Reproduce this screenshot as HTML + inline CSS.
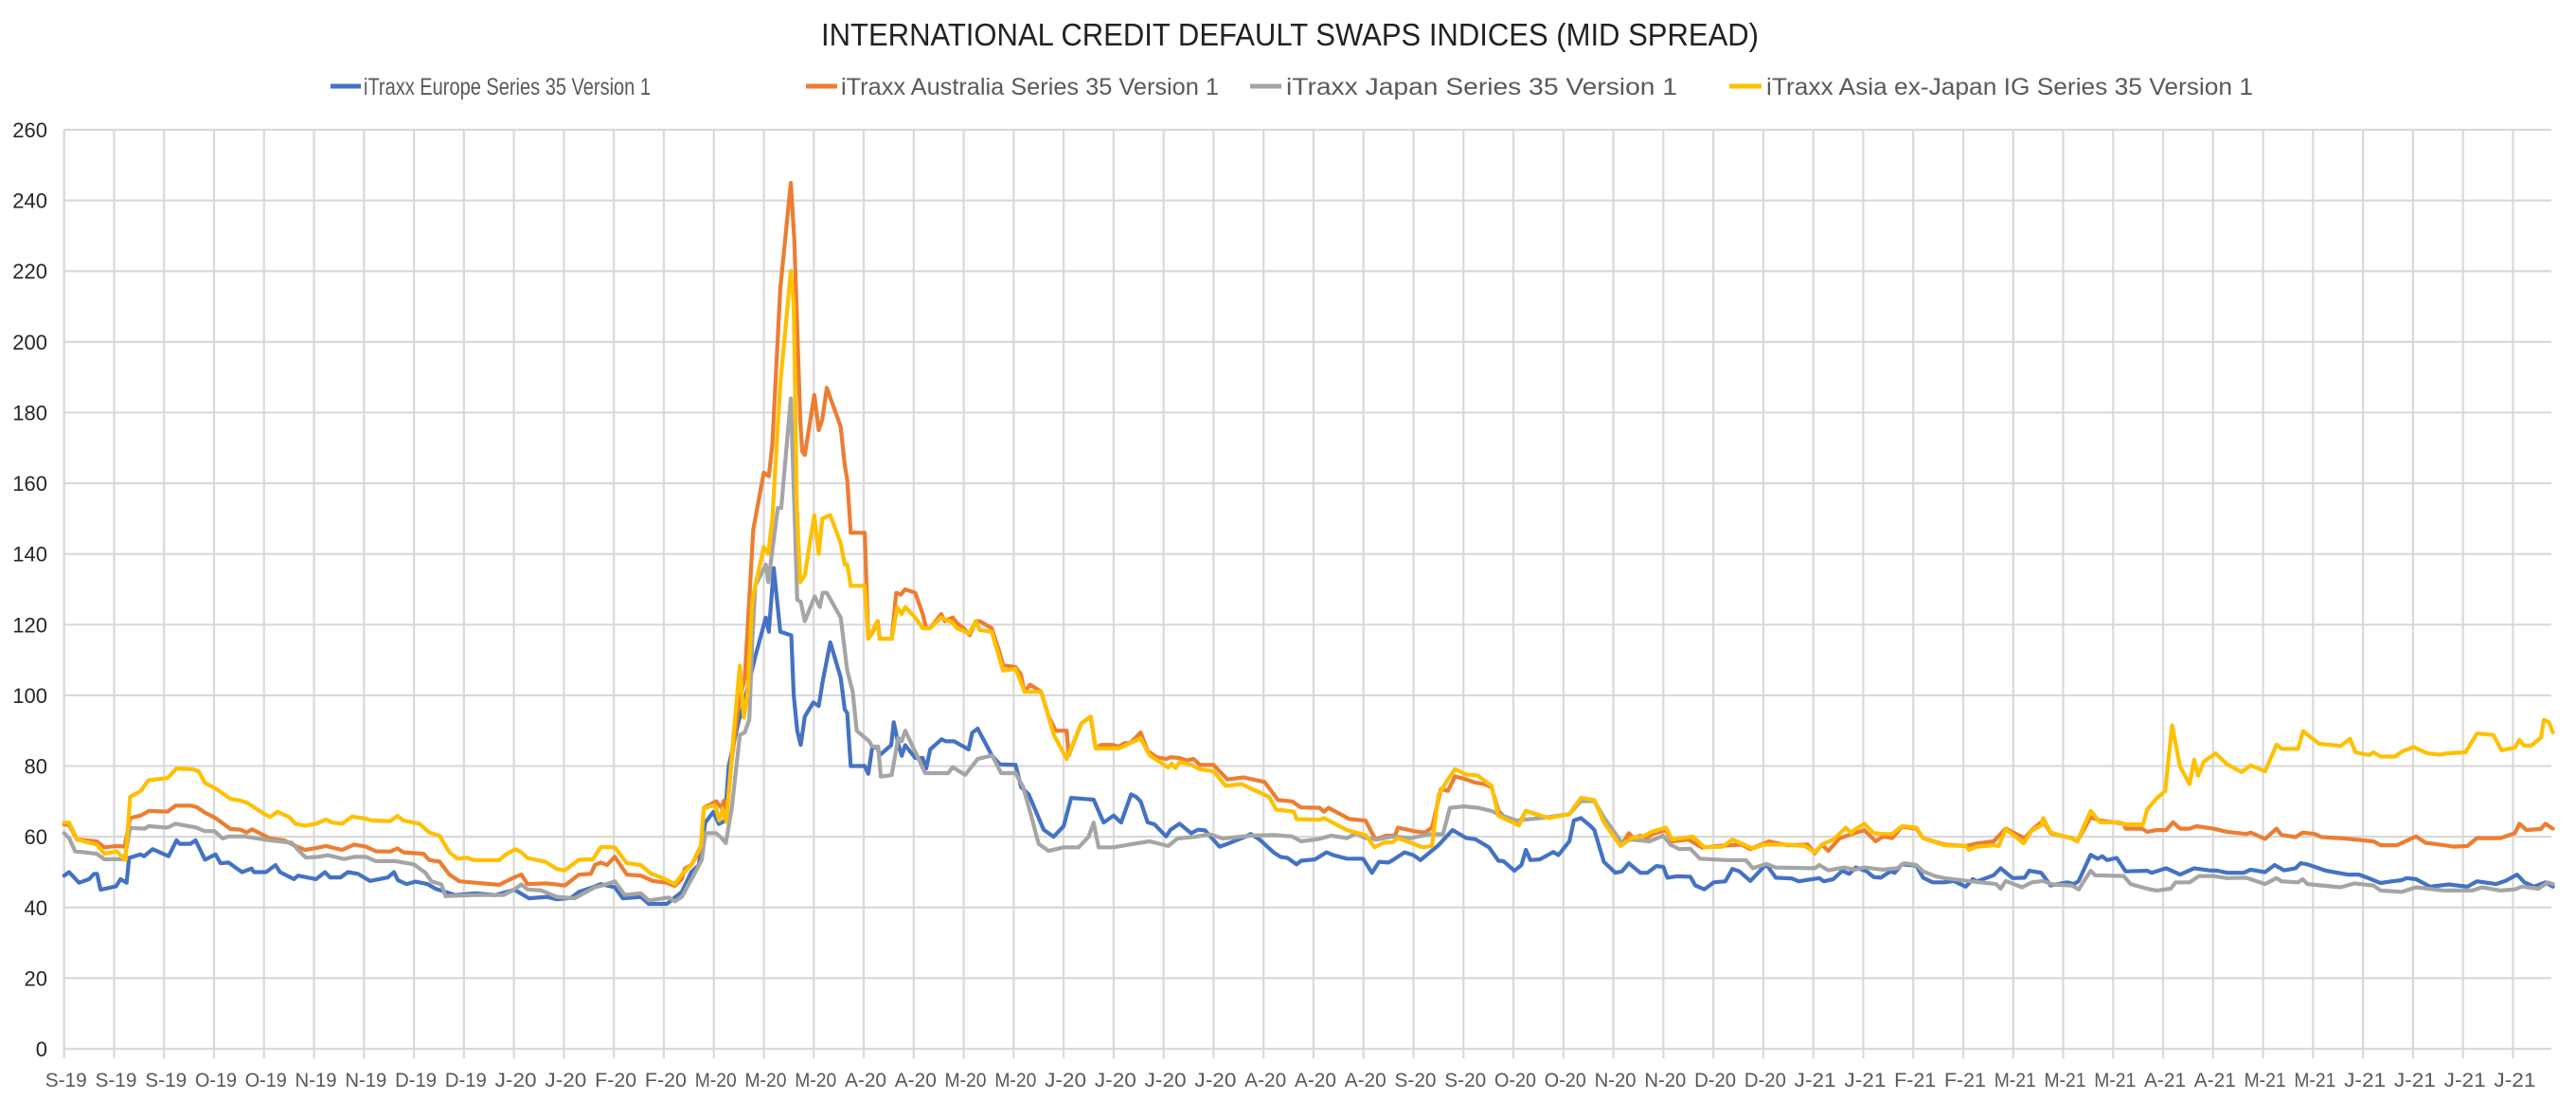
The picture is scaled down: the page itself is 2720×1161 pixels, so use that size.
<!DOCTYPE html>
<html><head><meta charset="utf-8">
<style>
html,body{margin:0;padding:0;background:#fff;}
svg{display:block;font-family:"Liberation Sans",sans-serif;}
</style></head>
<body>
<svg id="chart" width="2720" height="1161" viewBox="0 0 2720 1161" xmlns="http://www.w3.org/2000/svg">
<rect x="0" y="0" width="2720" height="1161" fill="#fff"/>
<text x="1362" y="48" text-anchor="middle" font-size="33" fill="#222" textLength="990" lengthAdjust="spacingAndGlyphs">INTERNATIONAL CREDIT DEFAULT SWAPS INDICES (MID SPREAD)</text>
<g id="legend">
 <g><line x1="349" y1="91" x2="381" y2="91" stroke="#4472C4" stroke-width="5"/><text x="384" y="100" font-size="25" fill="#595959" textLength="303" lengthAdjust="spacingAndGlyphs">iTraxx Europe Series 35 Version 1</text></g>
 <g><line x1="851" y1="91" x2="884" y2="91" stroke="#ED7D31" stroke-width="5"/><text x="888" y="100" font-size="25" fill="#595959" textLength="399" lengthAdjust="spacingAndGlyphs">iTraxx Australia Series 35 Version 1</text></g>
 <g><line x1="1320" y1="91" x2="1353" y2="91" stroke="#A5A5A5" stroke-width="5"/><text x="1358" y="100" font-size="25" fill="#595959" textLength="413" lengthAdjust="spacingAndGlyphs">iTraxx Japan Series 35 Version 1</text></g>
 <g><line x1="1826" y1="91" x2="1860" y2="91" stroke="#FFC000" stroke-width="5"/><text x="1865" y="100" font-size="25" fill="#595959" textLength="514" lengthAdjust="spacingAndGlyphs">iTraxx Asia ex-Japan IG Series 35 Version 1</text></g>
</g>
<g id="grid"></g>
<g id="axes"></g>
<g id="series"></g>
</svg>
<script>
const xLabels = ["S-19","S-19","S-19","O-19","O-19","N-19","N-19","D-19","D-19","J-20","J-20","F-20","F-20","M-20","M-20","M-20","A-20","A-20","M-20","M-20","J-20","J-20","J-20","J-20","A-20","A-20","A-20","S-20","S-20","O-20","O-20","N-20","N-20","D-20","D-20","J-21","J-21","F-21","F-21","M-21","M-21","M-21","A-21","A-21","M-21","M-21","J-21","J-21","J-21","J-21"];
const yTicks = [0,20,40,60,80,100,120,140,160,180,200,220,240,260];

const europeDay = [0,1,3,5,6,6.6,7.3,10.4,11.3,12.5,13,15.3,16,17.7,20.9,22.5,23.1,25.3,26.3,28.2,30.3,31.3,32.9,35.6,37.5,38,40.4,42.3,43.2,46,46.8,50.4,52.2,53.2,55.3,56.8,58.8,61.2,64.8,66,66.8,68.5,70.3,72.7,74.3,77.1,78.3,82.3,86.3,90.1,93,96.6,98.6,101.4,103,105.8,107.4,110.2,111.8,115.4,117,120.6,123.6,125.5,127,128.3,129.9,131,132.2,133,134.9,136.2,138.3,140.4,141,142,143.3,145.5,146,146.7,147.4,148.2,149.9,151,151.8,153.3,155.4,156.2,156.7,157.4,160.2,160.9,161.7,162.7,163.2,165.5,166,166.9,167.6,168.3,170.3,171.8,172.5,173.3,175.6,176.4,178.1,181,181.7,182.8,185.7,187.2,190.4,191.5,193,196,198,200,201.5,206,208,210,211.5,213.5,214.5,215.4,216.8,218.2,220.5,221.4,223.2,225.5,226.9,228.3,231.2,232.4,236.5,237.4,239.2,242,243.4,244.8,246.6,247.5,250.3,252.6,254,256.7,259.9,261.7,263.1,265,266.3,268.2,270,271.4,275,277.8,280.6,282.4,285.1,287,288,290.2,291.6,292.5,293.4,295.3,297.1,298,299,301.2,302.1,303.5,305.3,306.2,308.1,310.4,311.7,313.1,315.4,316.8,318.6,320,320.8,322.6,325.4,326.4,328.2,330.1,332.4,333.8,335.2,337.4,340.6,342.5,345.7,347.1,351.2,352.1,354,355.8,357.2,358.5,360.7,362.1,363.5,365.4,366.3,367.7,370.6,372,373.9,376.2,378.1,380.5,381.9,382.8,386.1,387.5,389.9,392.3,393.2,395.6,397.5,400.8,402.2,403.1,405.5,406.9,407.8,408.8,410.7,412.5,416.8,417.7,420.6,423.4,426.2,429.1,430.9,432.8,436.1,437.5,440.4,442.3,444.2,446.5,447.5,448.9,452.6,456.9,459.2,461.6,463.5,465.8,467.7,468.7,470.6,473.4,477.2,480.9,482.8,486.6,488.5,490.8,492.3,494.2,496.5,498];
const europeVal = [49,50,47,48,49.5,49.5,45,46,48,47,54,55,54.5,56.5,54.5,59,58,58,59,53.5,55,52.5,52.7,50,51,50,50,52,50,48,49,48,50,48.5,48.5,50,49.5,47.5,48.5,50,47.7,46.6,47.3,46.6,45.3,44,43.5,44,43.5,45,42.6,43,42.3,42.7,44.4,45.7,46.6,45.7,42.6,43,41,41,44.4,50,52,64,67,63.6,64.5,80,92.3,98.6,111,122,118,136,118,117,100,90,86,94,98,97,104,115,105,96,95,80,80,77.8,85.3,85.3,83.1,85.9,92.4,86.4,82.9,85.9,82.3,82.3,79.3,84.7,87.6,87,87,84.7,89.4,90.6,82.9,80.5,80.3,74,72,62,60,63,71,70.5,64,66,64,72,71.3,70,64.1,63.5,60.1,62,63.7,61,62,61.8,57.2,57.8,60.1,60.8,59.2,55.6,54.3,54,52.2,53.2,53.6,55.6,54.8,53.8,53.8,49.8,52.9,52.7,53.8,55.6,54.8,53.4,57.6,61.9,59.6,59.3,57,53.2,53.1,50.4,52,56.3,53.4,53.6,55,55.7,54.8,58.7,64.6,65.3,63.2,61.9,52.9,49.8,50.2,52.5,49.8,49.8,51.7,51.5,48.4,48.8,48.7,46.2,45.1,47.1,47.4,50.9,50.2,47.5,52.2,48.4,48.2,47.4,48.3,47.4,48,50.4,49.5,51.3,50.2,48.6,48.4,50.2,49.8,52.2,51.8,48.4,47.1,47.1,47.5,45.9,48,47.4,49.1,51.1,48.3,48.4,50.4,49.8,46.2,47.1,46.6,47.5,54.9,53.8,54.5,53.4,54,50.2,50.4,49.8,51.1,49.3,51.1,50.5,50.4,49.8,49.8,50.7,50,52,50.5,51.1,52.5,52.2,50.4,49.3,49.3,48,46.9,47.4,47.7,48.3,48,45.9,46.5,45.9,47.4,46.6,47.5,49.3,47.1,45.9,47.1,45.9];

const australiaDay = [0,1,2.6,6.5,8.1,10.5,12.1,13.2,15.3,17,20.7,22.3,25.3,26.5,28.2,30.3,33.3,35.3,36.5,37.6,41.2,44,46.3,48.2,50.4,52.4,55.6,58,60.4,62.4,65.2,66.7,67.9,71.9,73.1,75.1,77.1,79.1,82.3,87.1,89.9,91.5,92.7,96.6,100.2,103,105.4,106.2,107.4,108.6,110.2,112.6,115.4,117.8,120.6,122.2,123.6,124.2,125.5,127.4,128,130.5,131.5,132,132.7,133.6,134.9,136.2,137.9,140,141,141.7,143.3,145.4,146.1,147.3,147.7,148.2,150.1,151,151.7,152.6,155.4,156.2,156.7,157.4,160.2,160.9,161.8,162.8,163.2,165.6,166.5,167.4,168.3,170.3,171.8,172.5,173.3,175.5,176.2,177.8,178.6,180,181.2,182.4,183.2,185.6,187.2,187.9,190.4,191.4,192.2,193.3,195.5,197,198.4,200.6,201,203.5,205.4,206.4,207.5,209.7,211.1,212.2,213.3,215.4,216.8,218.6,220.5,221.4,223.2,224.6,226,227.3,230,232.8,236,240.2,242.9,245.7,247.5,251.2,252.1,253,257.2,260.4,262.4,264.5,266.3,266.9,270.4,272.3,273.7,275.5,276.9,278.3,280.6,282.4,284.2,285.6,287,288.3,291.1,292.5,296.1,297,301.2,303.5,306.2,308.1,309.9,311.7,313.1,314,315.4,316.8,317.7,320.5,321.8,325,327.8,331,335.6,337.4,341.1,344.8,348.9,350.3,351.7,353,355.3,358.3,360.2,362.5,364,365.8,367.7,370.6,372,376.2,380.5,382.8,386.1,388.5,392.3,393.7,396,397.5,401.7,402.8,405.5,407.4,412.1,412.5,415.8,416.8,418.7,420.6,422,423.4,425.3,426.7,430,432.8,436.6,437.5,440.4,442.7,443.7,446.5,447.9,450.3,451.7,456.4,458.3,462.1,463.5,466.8,470.6,472.5,476.2,478.1,480.9,482.8,487.5,490.4,491.3,492.7,495.6,496.5,498];
const australiaVal = [63.5,63.3,59.2,58.7,57,57.4,57.2,65.3,66,67.3,67.1,68.8,68.8,68.4,66.8,65.3,62.2,62,61.2,62.1,59.5,59,57.4,56.3,56.8,57.4,56.3,57.8,57.2,55.9,55.8,56.7,55.6,55.2,53.4,53,49.3,47.4,47,46.4,48.4,49.3,46.6,46.8,46.2,49.3,49.5,52,52.7,52,54.3,49.3,49,47.5,47,46.1,48,51,52,56.6,68.2,70,68.2,70.2,68.2,82,96.8,105,147,163,162,171,215,245,229,178,169,168,185,175,178,187,176,165,161,146,146,116,118,121,116,116,129,128.5,130,129,123,119,119,123,121,122,120.5,119,117,121,121,119,112,108.5,108,106,101,103,101,94,90,90,83,92,94,85,86,86,85.5,86.5,86.5,89.5,84.3,82.5,82,82.5,82.3,81.6,82,80.3,80.3,76.2,76.8,75.5,70.4,70,68.3,68.2,67.1,68.2,65,64.6,59.2,60.3,60.3,62.6,61.5,61.2,62.6,73.5,73,77.1,76.2,75.3,74.9,74,67.3,65.5,63.7,67.3,65.6,65.5,66.4,70.7,70.2,64.6,61.9,57.8,61,59.6,60.3,59.6,60.7,61.9,58.7,59.2,56.9,57.4,57.8,56.5,58.7,57.6,57.8,55.3,57.8,56,59.6,61,61.9,58.7,60.1,59.6,62.8,62.3,59.6,57.8,57.4,58.1,58.7,62.3,59.6,61.9,64.6,61,59.6,58.7,65.5,64.6,63.7,62.3,62.3,61.4,61.9,61.9,64.1,62.3,62.3,63,62.3,61.4,60.8,61.2,59.4,62.3,60.5,59.9,61.2,60.8,59.9,59.5,59.2,58.7,57.6,57.6,60.1,58.3,57.6,57.2,57.4,59.6,59.6,61,63.7,61.9,62.2,63.7,62.3];

const japanDay = [0,1,2.2,6.5,8.1,12.1,13.2,16.1,16.9,20.7,22.3,26.5,28.1,30.1,31.7,32.9,36.1,41.2,45.6,47,48.4,50.8,52.8,56,58,60.4,62.4,66.3,70,72.3,73.5,75.5,76.3,82.3,87.9,90.1,91.5,92.7,95.5,98.6,102.2,104.6,106.2,107.4,110.2,112.2,115.4,117,121,122.2,123.6,126.7,127.6,128.3,130.5,131.5,132.4,133.6,135.2,136.2,137.1,137.7,138.3,140.4,140.9,142.8,143.5,145.4,146.1,146.7,147.4,148.2,150.2,151.2,151.8,152.6,155.4,156.7,157.8,158.6,161.1,161.7,162.9,163.4,165.6,166.9,167.6,168.3,170.3,172.3,176.9,177.8,180.3,182.8,185.7,187.5,190.4,191.9,193.5,195,197,200,203,205,206,207,210,214.5,217.2,220.9,222.8,226.4,229.2,231.9,237.4,242,245.7,247.5,251.2,253.5,256.7,258.5,260.4,262.7,265.9,269.5,273.2,275.9,277.3,280.1,282.9,285.6,287,290.6,296.9,301.2,303.5,306.2,308.1,309.9,311.7,313.6,317.2,320,321.4,323.2,325.4,327.3,332.8,336.5,337.9,340.6,342.5,350.3,351.2,353,356.2,358.3,360.2,364,366.8,368.2,370.6,372,374.3,376.2,380.9,386.6,387.5,388.5,391.8,393.7,396,397.9,401.7,403.1,405.5,406.4,412.1,413.5,416.8,418.7,421.5,422.5,425.3,427.2,430,432.8,436.6,440.4,442.7,443.7,447,447.9,448.9,455.5,458.3,462.1,463.5,467.7,470.6,476.2,481.9,483.8,487.5,490.4,491.8,495.1,497,498];
const japanVal = [61,59.6,55.9,55.2,53.6,53.7,62.5,62.3,63,62.6,63.7,62.6,61.6,61.6,59.5,60.1,60.1,59,58.3,56,54.1,54.3,54.8,53.7,54.3,54.3,53.1,53.1,52.2,49.8,47.4,46.5,43.2,43.5,43.5,45.1,46.5,45.1,44.8,43,42.6,44.5,45.7,46.1,47.4,43.5,44,42,42.8,41.7,43,51,53.5,61,61,59.7,58.2,68.2,88.8,89.5,93.2,115,131,137,132,153,153,184,154,127,126.5,121,128,125,129,129,122,107,101,90,87,85.5,85.5,77,77.5,88,87,90,84,78,78,79.7,77.5,82,83,78,78,74,66,58,56,57,57,60,64,57,57,58.1,58.7,57.4,59.5,60,60.7,59.5,60.3,60.5,60.1,58.7,59.4,60.3,59.6,61,59.6,59.2,60.1,59.6,60.7,60.7,68.2,68.6,68.2,67.3,66.4,64.6,65.5,66.4,70.1,70.1,65.5,61.9,58.3,59.2,58.7,60.3,57.8,56.5,56.6,53.8,53.4,53.4,51.1,52.3,51.3,51.1,52,50.5,51.3,50.7,51.3,50.7,51.1,52.5,52,50.2,48.9,48.3,47.5,46.6,45.3,47.5,45.7,47.1,47.5,46.5,46.2,45.1,50.4,49.1,48.9,46.6,45.3,44.8,45.3,47.1,47.1,48.9,48.9,48.3,48.4,46.6,48.3,47.4,47.1,48,46.6,45.7,46.8,46.2,44.8,44.4,45.7,44.8,44.8,45.7,44.8,45.1,45.9,45.3,47.1,46.6];

const asiaDay = [0,1,2.6,6.5,8.1,10.5,12.3,13.2,15.3,16.9,20.7,22.5,25.7,26.9,28.2,30.5,33.3,35.3,36.5,40,41.2,42.7,45.1,46.3,48.2,50.4,52.4,53.6,55.6,57.6,60.1,61.6,65.2,66.7,67.9,71.1,73.1,75.1,77.1,78.7,80.7,81.9,87.1,88.3,90.3,91.5,92.7,96.3,98.6,100.2,103,105.8,107.4,110.2,112.6,115.4,117.4,119.8,122.2,123.6,125.5,127.4,128,130.2,131.1,131.8,132.5,134,135.2,136,136.8,137.7,140,140.9,141.7,143.3,145.4,146,146.6,147.3,148.2,150.1,151,151.7,153.3,155.4,156.2,156.7,157.4,160.2,160.9,162.7,163.2,165.6,166.7,167.6,168.3,170.3,171.8,173.3,175.5,177.8,178.6,181.1,182.4,183.2,185.6,187.9,190.4,192.2,195.5,198,200.6,203.5,205.4,206.4,211.1,215.4,217.2,220.9,221.6,222.4,223.2,225.5,227.3,230,232.4,235.6,238.3,241.1,242.5,246.1,246.6,251.2,252.1,256.7,260.4,262.2,264,265.9,266.8,269.5,271.8,273.7,275,276.7,278.3,280.6,282.9,285.6,287,291.1,292.5,297.1,301.2,303.5,306.2,308.1,311.4,313.6,315.9,317.7,320.5,321.8,325.9,328.2,331.9,333.8,337.9,340.2,344.8,348.3,350.3,351.7,354,356.5,357.6,358.3,360.2,362.1,364,365.8,367.7,370.6,372,376.2,380.5,381.1,382.8,386.1,387.1,388.5,390.4,392.1,393.7,395.6,396,397.5,401.7,402.8,405.5,407.4,411.2,412.3,416,416.8,418.7,420.4,421.8,423.4,425.3,426.2,427,428.1,430.5,432.8,435.7,437.5,440.4,442.7,443.7,447,448,451.2,455.5,457.4,458.5,461.2,462.1,463.5,466.4,467.8,470.1,472.9,475.4,476.8,480.5,482.8,486.1,487.7,490.4,491.3,492.2,493.7,495.6,496.2,497.2,498];
const asiaVal = [64,64,59.2,57.8,55.2,55.9,53.4,71.3,72.9,76,76.6,79.3,79.1,78.5,75.2,73.5,70.7,70.2,69.7,66.5,65.6,67.1,65.5,63.7,63.1,63.7,64.9,64,63.7,65.7,65.2,64.6,64.4,65.9,64.6,63.7,61.2,60.3,55.6,53.8,54.1,53.4,53.4,54.9,56.5,55.6,54,52.9,50.9,50.5,53.5,53.6,57.1,57,52.5,52,49.6,48.3,46.6,49.3,52,57.5,68,69,64.6,68,64.2,89.6,108.4,93.7,101,127,142,140,150,188,220,211,154,132,134,151,140,150,151,143,137,137,131,131,116,121,116,116,125,123,125,122,119,119,122,120.5,119,117.5,121,118.5,118,107,107.5,101,101,89,82,92,94,85,85,87.8,83,79.6,80.7,79.4,81.2,80.3,79.1,78.5,74.4,74.9,73.1,71.3,67.7,67.1,65,64.8,65.3,61.9,60.5,57,58.3,58.5,59.6,58.3,57,57.4,71.8,75.8,79.1,77.6,77.3,74.4,65.9,63.2,67.3,65.3,66.4,71,70.4,64.1,57.4,59.6,60.1,61.4,62.6,59.2,60.1,57,57.2,59.2,56.7,57.8,57.8,57.4,55.6,57.8,59.2,62.6,61,62,63.7,61,60.8,60.8,63,62.6,59.6,57.6,57.4,56.3,57.2,57.6,57.4,62.1,60.1,58.1,61.7,63.2,65.3,61.2,59.5,58.7,67.3,64.1,64.1,63.5,63.5,67.7,70.9,72.9,91.5,79.8,74.9,81.8,77.3,81.2,83.6,80.5,78.3,80.2,78.5,86.1,84.9,84.9,89.9,86.3,85.7,87.7,83.9,83.1,83.9,82.7,82.7,84.1,85.4,83.6,83.2,83.6,83.9,89.2,88.8,84.5,85.2,87.4,85.8,85.8,88.1,93.1,92.4,89.5];

const NS = "http://www.w3.org/2000/svg";
const plotL = 67.7, plotR = 2694, yTop = 137, yBot = 1107, vMax = 260;
const tickW = 52.77, dayPerTick = 10;
function xScale(d){ return plotL + d * tickW / dayPerTick; }
function yScale(v){ return yBot - v * (yBot - yTop) / vMax; }

const grid = document.getElementById('grid');
const axes = document.getElementById('axes');
const series = document.getElementById('series');

yTicks.forEach(function(t){
  const ln = document.createElementNS(NS,'line');
  ln.setAttribute('x1', plotL); ln.setAttribute('x2', plotR);
  ln.setAttribute('y1', yScale(t)); ln.setAttribute('y2', yScale(t));
  ln.setAttribute('stroke','#d9d9d9'); ln.setAttribute('stroke-width','2.2');
  
  
  grid.appendChild(ln);
  const tx = document.createElementNS(NS,'text');
  tx.setAttribute('x', 50); tx.setAttribute('y', yScale(t) + 8);
  tx.setAttribute('text-anchor','end'); tx.setAttribute('font-size','22');
  tx.setAttribute('fill','#262626');
  tx.textContent = t;
  
  
  axes.appendChild(tx);
});

xLabels.forEach(function(lab, k){
  const x = xScale(k * dayPerTick);
  const ln = document.createElementNS(NS,'line');
  ln.setAttribute('x1', x); ln.setAttribute('x2', x);
  ln.setAttribute('y1', yTop); ln.setAttribute('y2', yBot + 10);
  ln.setAttribute('stroke','#d9d9d9'); ln.setAttribute('stroke-width','2.2');
  
  
  grid.appendChild(ln);
  const tx = document.createElementNS(NS,'text');
  tx.setAttribute('x', x + 2); tx.setAttribute('y', 1147);
  tx.setAttribute('text-anchor','middle'); tx.setAttribute('font-size','21');
  tx.setAttribute('fill','#595959');
  tx.setAttribute('textLength','44'); tx.setAttribute('lengthAdjust','spacingAndGlyphs');
  tx.textContent = lab;
  
  
  axes.appendChild(tx);
});

function drawSeries(days, vals, color, name){
  let d = '';
  for (let i = 0; i < days.length; i++){
    d += (i ? 'L' : 'M') + xScale(days[i]).toFixed(1) + ',' + yScale(vals[i]).toFixed(1);
  }
  const p = document.createElementNS(NS,'path');
  p.setAttribute('d', d);
  p.setAttribute('fill','none'); p.setAttribute('stroke', color);
  p.setAttribute('stroke-width','4.2'); p.setAttribute('stroke-linejoin','round'); p.setAttribute('stroke-linecap','round');
  
  
  series.appendChild(p);
}
drawSeries(europeDay, europeVal, '#4472C4', 'series-europe');
drawSeries(australiaDay, australiaVal, '#ED7D31', 'series-australia');
drawSeries(japanDay, japanVal, '#A5A5A5', 'series-japan');
drawSeries(asiaDay, asiaVal, '#FFC000', 'series-asia-ex-japan');
</script>
</body></html>
